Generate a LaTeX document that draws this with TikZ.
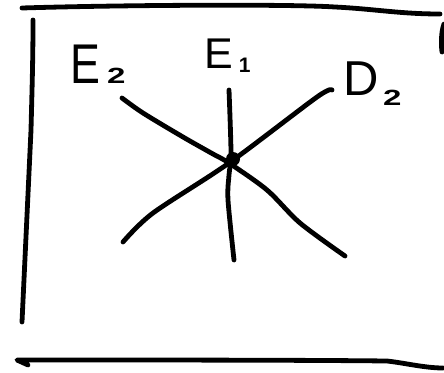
\documentclass[tikz,border=0pt]{standalone}
\usepackage{fontspec}
\setmainfont{Liberation Sans}
\begin{document}
\begin{tikzpicture}[x=1pt,y=-1pt,
  ink/.style={line width=4.8pt,line cap=round,line join=round},
  lbl/.style={inner sep=0pt,anchor=base west}]
\useasboundingbox (0,0) rectangle (444,372);
% frame strokes
\draw[ink] (22,8) .. controls (120,5) and (290,4) .. (335,7)
  .. controls (375,9) and (400,14) .. (440,14);
\draw[ink] (33,20) .. controls (33,60) and (32,90) .. (31,130) -- (22,322);
\draw[ink] (444,24) .. controls (441,32) and (441,44) .. (442,52);
\draw[ink] (28,365) -- (17,360) .. controls (150,360) and (300,360) .. (387,361)
  .. controls (405,363) and (425,368) .. (443,368);
% centre and line ends
\coordinate (c) at (229,163);
\coordinate (e2a) at (122,98);
\coordinate (e2b) at (345,256);
\coordinate (d2a) at (332,90);
\coordinate (d2b) at (123,242);
\coordinate (e1a) at (229,90);
\coordinate (e1b) at (234,260);
\draw[ink] plot[smooth,tension=0.5] coordinates {(e2a) (143,113) (183,137) (213,154) (c) (267,190) (300,223) (e2b)};
\draw[ink] plot[smooth,tension=0.5] coordinates {(d2a) (317,97) (c) (153,213) (d2b)};
\draw[ink] plot[smooth,tension=0.5] coordinates {(e1a) (231,153) (229,175) (228,200) (e1b)};
\fill (233,159) circle (7pt);
% labels
\node[lbl] (le2) at (70,83) {\fontsize{56}{56}\selectfont\scalebox{0.8}[1]{E}\hspace{7pt}\fontsize{22}{22}\selectfont\bfseries\scalebox{1.5}[1]{2}};
\node[lbl] (le1) at (204,68) {\fontsize{43}{43}\selectfont E\hspace{6pt}\raisebox{-4pt}{\fontsize{21}{21}\selectfont\bfseries 1}};
\node[lbl] (ld2) at (343,95) {\fontsize{49}{49}\selectfont D\hspace{4.5pt}\raisebox{-10pt}{\fontsize{22}{22}\selectfont\bfseries\scalebox{1.5}[1]{2}}};
\end{tikzpicture}
\end{document}
